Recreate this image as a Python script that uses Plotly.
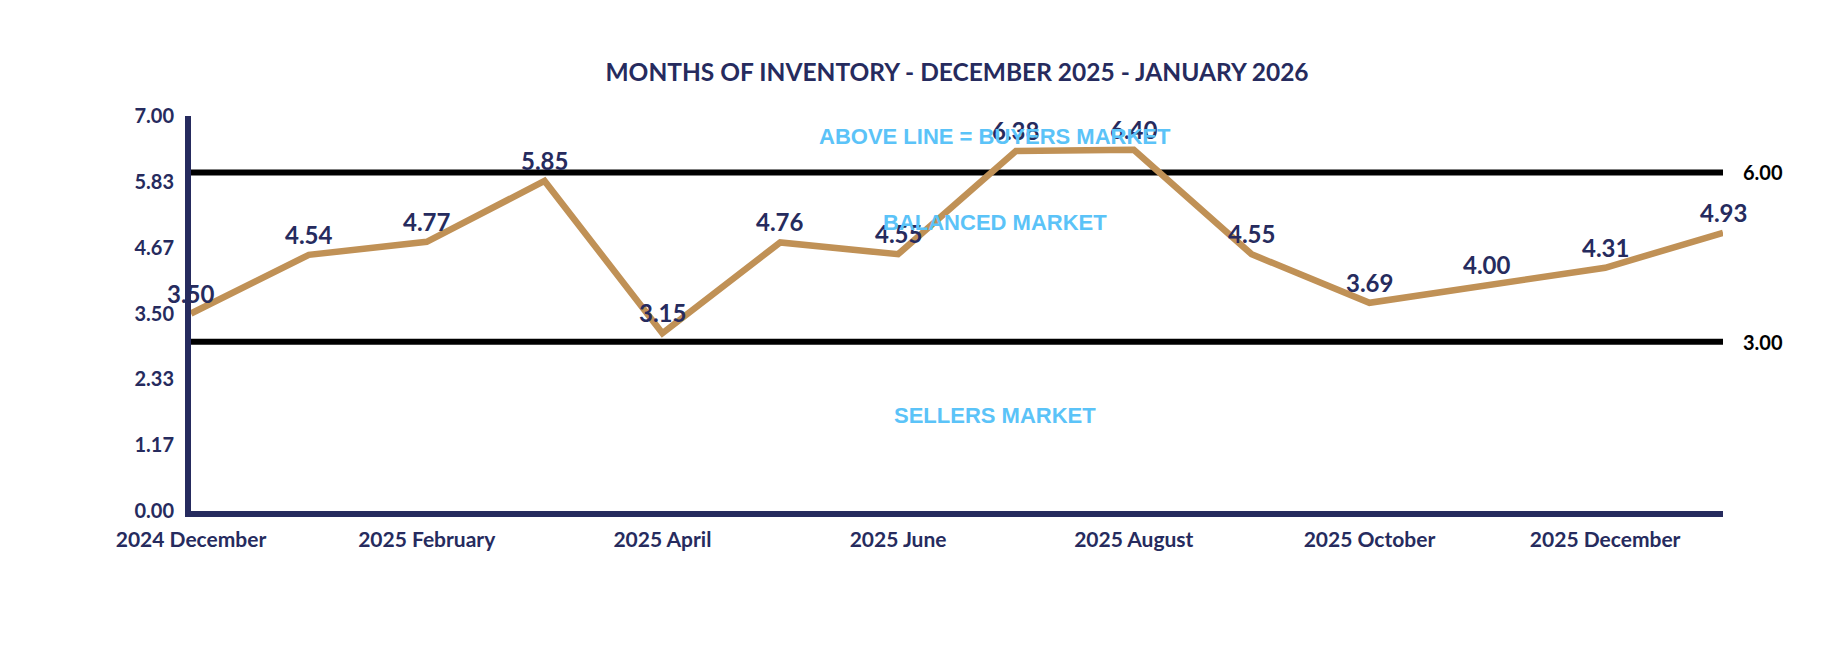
import plotly.graph_objects as go

months = ["2024 December", "2025 January", "2025 February", "2025 March", "2025 April",
          "2025 May", "2025 June", "2025 July", "2025 August", "2025 September",
          "2025 October", "2025 November", "2025 December", "2026 January"]
inventory = [3.50, 4.54, 4.77, 5.85, 3.15, 4.76, 4.55, 6.38, 6.40, 4.55, 3.69, 4.00, 4.31, 4.93]
x_tick_labels = ["2024 December", "2025 February", "2025 April", "2025 June",
                 "2025 August", "2025 October", "2025 December"]
y_tick_vals = [0, 7/6, 14/6, 3.5, 28/6, 35/6, 7]
y_tick_text = ["0.00", "1.17", "2.33", "3.50", "4.67", "5.83", "7.00"]
thresholds = [6.00, 3.00]
zone_texts = ["ABOVE LINE = BUYERS MARKET", "BALANCED MARKET", "SELLERS MARKET"]
zone_y = [6.63, 5.12, 1.70]
title_text = "MONTHS OF INVENTORY - DECEMBER 2025 - JANUARY 2026"

NAVY = "#262B5E"
TAN = "#C09156"
BLUE = "#5BC3F8"

idx = list(range(len(months)))
tick_idx = [months.index(m) for m in x_tick_labels]

# page body has an 8px margin; size the figure so it fits the window
W, H = 1824, 652

fig = go.Figure()
fig.add_trace(go.Scatter(x=idx, y=inventory, mode="lines",
                         line=dict(color=TAN, width=6.5), hoverinfo="skip",
                         cliponaxis=False, showlegend=False))

annotations = []
for i, v in zip(idx, inventory):
    annotations.append(dict(x=i, y=v, text=f"{v:.2f}", showarrow=False,
                            yanchor="bottom", xanchor="center", yshift=4,
                            font=dict(family="Lato", size=24, color=NAVY, weight="bold")))
shapes = []
for t in thresholds:
    shapes.append(dict(type="line", xref="paper", x0=0, x1=1, yref="y", y0=t, y1=t,
                       line=dict(color="black", width=6), layer="below"))
    annotations.append(dict(xref="paper", x=1, y=t, xanchor="left", xshift=18,
                            text=f"{t:.2f}", showarrow=False,
                            font=dict(family="Lato", size=20, color="black", weight="bold")))
for txt, yy in zip(zone_texts, zone_y):
    annotations.append(dict(xref="x", x=6.82, y=yy, text=txt, showarrow=False,
                            xanchor="center", yanchor="middle",
                            font=dict(family="Liberation Sans", size=22, color=BLUE, weight="bold")))

fig.update_layout(
    width=W, height=H,
    paper_bgcolor="white", plot_bgcolor="white",
    margin=dict(l=183, r=109, t=108, b=149),
    title=dict(text=title_text, x=0.5, xanchor="center", y=1 - 64/H, yanchor="middle",
               xref="paper",
               font=dict(family="Lato", size=24.5, color=NAVY, weight="bold")),
    xaxis=dict(range=[0, len(months) - 1], tickvals=tick_idx, ticktext=x_tick_labels,
               showgrid=False, zeroline=False, showline=True, linecolor=NAVY, linewidth=6,
               ticks="outside", ticklen=5, tickcolor="rgba(0,0,0,0)",
               tickfont=dict(family="Lato", size=21, color=NAVY, weight="bold")),
    yaxis=dict(range=[0, 7], tickvals=y_tick_vals, ticktext=y_tick_text,
               showgrid=False, zeroline=False, showline=True, linecolor=NAVY, linewidth=6,
               ticks="outside", ticklen=7, tickcolor="rgba(0,0,0,0)",
               tickfont=dict(family="Lato", size=20, color=NAVY, weight="bold")),
    shapes=shapes, annotations=annotations,
)

fig.write_html("out.html")
